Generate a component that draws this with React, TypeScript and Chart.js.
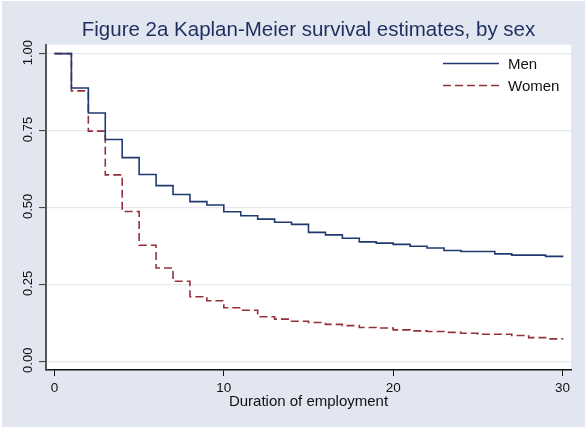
import React, { useEffect, useRef } from "react";
import { Chart, registerables } from "chart.js";

Chart.register(...registerables);

const chartTitle = "Figure 2a Kaplan-Meier survival estimates, by sex";
const xAxisTitle = "Duration of employment";
const seriesLabels = ["Men", "Women"];
const timePoints = [0, 1, 2, 3, 4, 5, 6, 7, 8, 9, 10, 11, 12, 13, 14, 15, 16, 17, 18, 19, 20, 21, 22, 23, 24, 25, 26, 27, 28, 29, 30];
const menSurvival = [1.0, 0.888, 0.807, 0.721, 0.662, 0.607, 0.571, 0.542, 0.519, 0.508, 0.486, 0.473, 0.462, 0.452, 0.445, 0.419, 0.411, 0.4, 0.388, 0.384, 0.38, 0.374, 0.368, 0.36, 0.357, 0.357, 0.349, 0.345, 0.345, 0.341, 0.338];
const womenSurvival = [1.0, 0.879, 0.748, 0.606, 0.487, 0.377, 0.303, 0.26, 0.21, 0.197, 0.174, 0.166, 0.145, 0.137, 0.13, 0.126, 0.12, 0.116, 0.11, 0.108, 0.102, 0.099, 0.097, 0.094, 0.091, 0.088, 0.088, 0.084, 0.077, 0.073, 0.072];
const xTickValues = [0, 10, 20, 30];
const yTickValues = [0, 0.25, 0.5, 0.75, 1];

const FONT = "'Liberation Sans', Arial, sans-serif";
const MEN_COLOR = "#1f3a6e";
const WOMEN_COLOR = "#93303c";
const BG = "#e1e6f0";
const GRID = "#e4e9f1";

const backgroundPlugin = {
  id: "stataBackground",
  beforeDraw(chart: any) {
    const { ctx, width, height, chartArea } = chart;
    ctx.save();
    ctx.fillStyle = "#ffffff";
    ctx.fillRect(0, 0, width, height);
    ctx.fillStyle = BG;
    ctx.fillRect(2, 1, width - 2, height - 2);
    ctx.fillStyle = "#ffffff";
    ctx.fillRect(chartArea.left, chartArea.top, chartArea.right - chartArea.left, chartArea.bottom - chartArea.top);
    ctx.restore();
  },
};

const insideLegendPlugin = {
  id: "insideLegend",
  afterDatasetsDraw(chart: any) {
    const { ctx, chartArea } = chart;
    ctx.save();
    chart.data.datasets.forEach((ds: any, i: number) => {
      const y = chartArea.top + 19 + i * 22;
      const x0 = chartArea.right - 128;
      const x1 = chartArea.right - 72;
      ctx.strokeStyle = ds.borderColor;
      ctx.lineWidth = 1.5;
      ctx.setLineDash(ds.borderDash || []);
      ctx.beginPath();
      ctx.moveTo(x0, y);
      ctx.lineTo(x1, y);
      ctx.stroke();
      ctx.setLineDash([]);
      ctx.fillStyle = "#111111";
      ctx.font = `15px ${FONT}`;
      ctx.textAlign = "left";
      ctx.textBaseline = "middle";
      ctx.fillText(ds.label, chartArea.right - 63, y + 1);
    });
    ctx.restore();
  },
};

export default function App() {
  const canvasRef = useRef<HTMLCanvasElement | null>(null);

  useEffect(() => {
    if (!canvasRef.current) return;
    const toPoints = (vals: number[]) => timePoints.map((t, i) => ({ x: t, y: vals[i] }));
    const chart = new Chart(canvasRef.current, {
      type: "line",
      data: {
        datasets: [
          {
            label: seriesLabels[0],
            data: toPoints(menSurvival),
            borderColor: MEN_COLOR,
            borderWidth: 1.6,
            stepped: "before",
            pointRadius: 0,
            fill: false,
          },
          {
            label: seriesLabels[1],
            data: toPoints(womenSurvival),
            borderColor: WOMEN_COLOR,
            borderWidth: 1.6,
            borderDash: [8, 4],
            stepped: "before",
            pointRadius: 0,
            fill: false,
          },
        ],
      },
      options: {
        animation: false,
        responsive: true,
        maintainAspectRatio: false,
        layout: { padding: { top: 4, right: 14, bottom: 0, left: 0 } },
        plugins: {
          legend: { display: false },
          tooltip: { enabled: false },
          title: {
            display: true,
            text: chartTitle,
            fullSize: false,
            color: "#1e2f5f",
            font: { family: FONT, size: 20.5, weight: "normal" },
            padding: { top: 14, bottom: 2 },
          },
        },
        scales: {
          x: {
            type: "linear",
            min: -0.5,
            max: 30.5,
            afterBuildTicks: (scale: any) => {
              scale.ticks = xTickValues.map((v) => ({ value: v }));
            },
            afterFit: (scale: any) => {
              scale.height = 58;
            },
            grid: {
              drawOnChartArea: false,
              drawTicks: true,
              tickLength: 6,
              tickColor: "#111111",
              tickWidth: 1,
            },
            border: { display: true, color: "#111111", width: 1.5 },
            ticks: {
              color: "#111111",
              font: { family: FONT, size: 13.5 },
              padding: 4,
              maxRotation: 0,
              autoSkip: false,
            },
            title: {
              display: true,
              text: xAxisTitle,
              color: "#111111",
              font: { family: FONT, size: 15 },
              padding: { top: 0, bottom: 17 },
            },
          },
          y: {
            type: "linear",
            min: -0.0283,
            max: 1.0293,
            afterBuildTicks: (scale: any) => {
              scale.ticks = yTickValues.map((v) => ({ value: v }));
            },
            afterFit: (scale: any) => {
              scale.width = 46;
            },
            grid: {
              color: GRID,
              lineWidth: 1.2,
              drawTicks: true,
              tickLength: 7,
              tickColor: "#333333",
              tickWidth: 1,
            },
            border: { display: true, color: "#555555", width: 2 },
            ticks: {
              color: "#111111",
              font: { family: FONT, size: 13 },
              minRotation: 90,
              maxRotation: 90,
              crossAlign: "center",
              padding: -2,
              labelOffset: -1,
              autoSkip: false,
              callback: (v: any) => Number(v).toFixed(2),
            },
          },
        },
      },
      plugins: [backgroundPlugin, insideLegendPlugin],
    } as any);
    return () => chart.destroy();
  }, []);

  return (
    <div style={{ position: "fixed", left: 0, top: 0, width: 585, height: 428 }}>
      <canvas ref={canvasRef} />
    </div>
  );
}
